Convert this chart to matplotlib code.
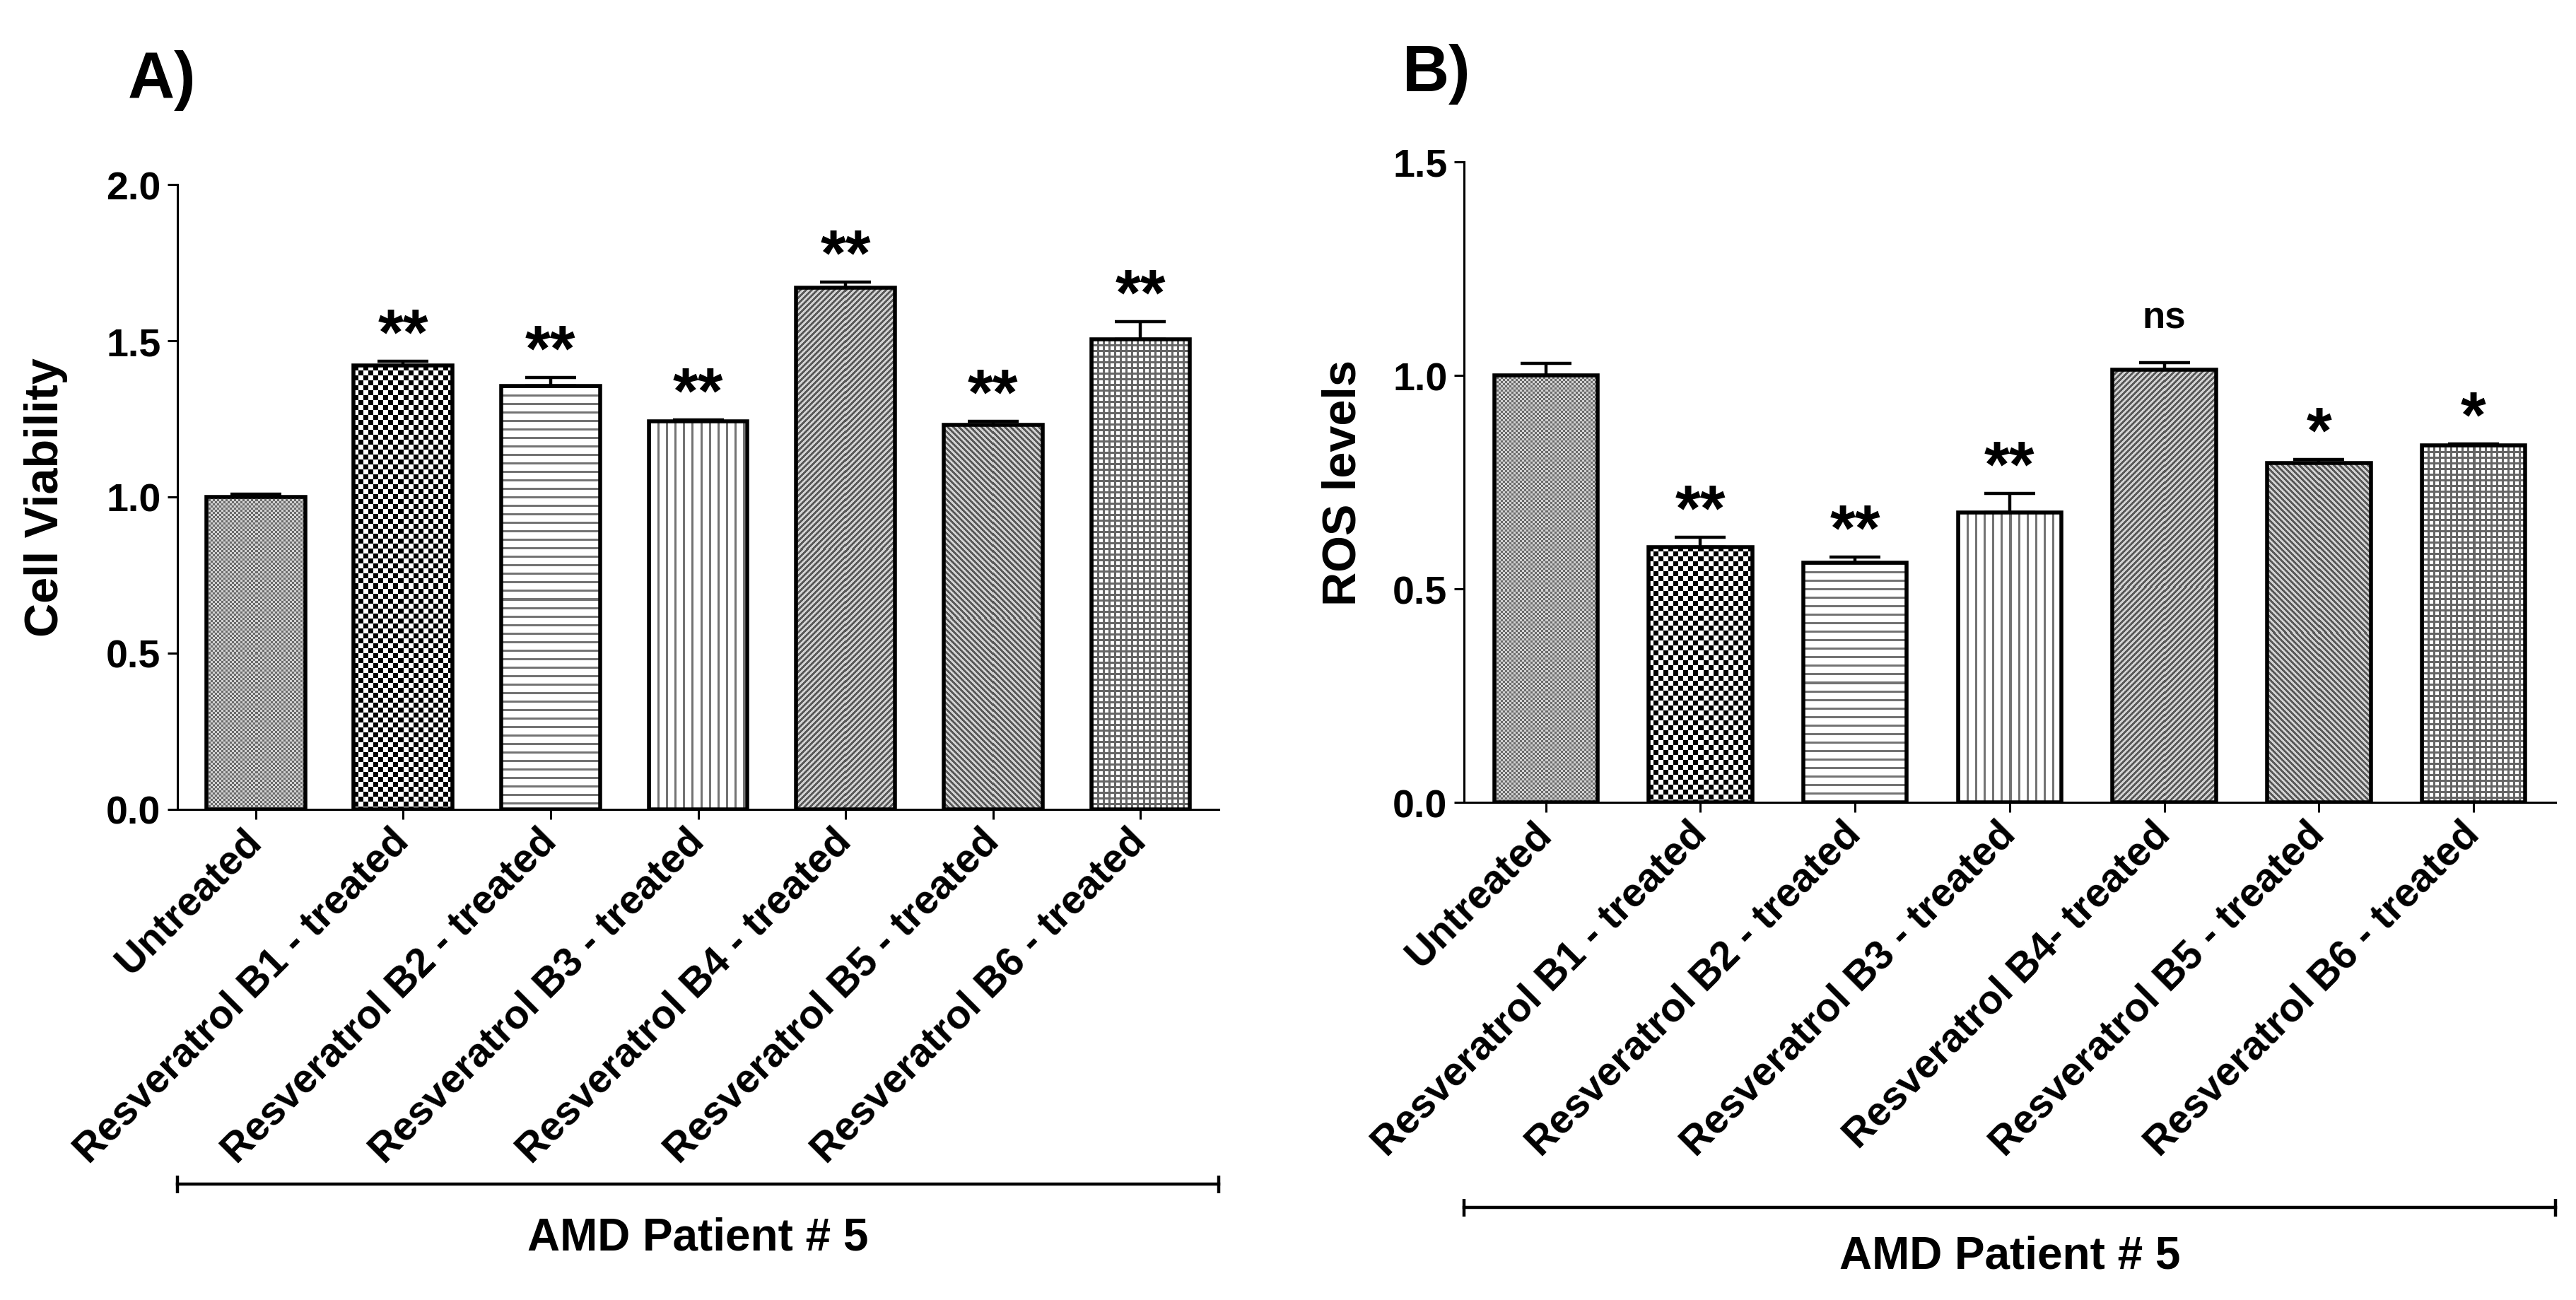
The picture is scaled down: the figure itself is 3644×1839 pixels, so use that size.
import numpy as np
import matplotlib
matplotlib.use("Agg")
import matplotlib.pyplot as plt

plt.rcParams['font.family'] = ['Liberation Sans', 'DejaVu Sans']
plt.rcParams['font.weight'] = 'bold'

# -----------------------------
#  Data
# -----------------------------
labels_a = ["Untreated", "Resveratrol B1 - treated", "Resveratrol B2 - treated",
            "Resveratrol B3 - treated", "Resveratrol B4 - treated",
            "Resveratrol B5 - treated", "Resveratrol B6 - treated"]
viability = [1.00, 1.42, 1.355, 1.242, 1.67, 1.231, 1.505]
viability_err = [0.008, 0.015, 0.027, 0.005, 0.018, 0.01, 0.055]
stars_a = ["", "**", "**", "**", "**", "**", "**"]

labels_b = ["Untreated", "Resveratrol B1 - treated", "Resveratrol B2 - treated",
            "Resveratrol B3 - treated", "Resveratrol B4- treated",
            "Resveratrol B5 - treated", "Resveratrol B6 - treated"]
ros = [1.00, 0.598, 0.561, 0.679, 1.014, 0.795, 0.836]
ros_err = [0.028, 0.023, 0.014, 0.045, 0.015, 0.008, 0.004]
stars_b = ["", "**", "**", "**", "ns", "*", "*"]

patterns = ["fine", "checker", "hlines", "vlines", "fwd", "back", "grid"]


def make_pattern(kind, nx, ny):
    i, j = np.meshgrid(np.arange(nx), np.arange(ny))
    if kind == "fine":
        return np.where(((i // 3) + (j // 3)) % 2 == 0, 0.42, 0.82)
    if kind == "checker":
        return np.where(((i // 7) + (j // 7)) % 2 == 0, 0.0, 1.0)
    if kind == "hlines":
        return np.where(j % 12 < 3, 0.45, 1.0)
    if kind == "vlines":
        return np.where(i % 12 < 3, 0.45, 1.0)
    if kind == "fwd":
        return np.where((i + j) % 8 < 4, 0.35, 0.82)
    if kind == "back":
        return np.where((i - j) % 8 < 4, 0.35, 0.82)
    if kind == "grid":
        return np.where((i % 8 < 3) | (j % 8 < 3), 0.4, 1.0)
    return np.ones((ny, nx))


def draw_panel(ax, labels, values, errs, stars, ymax, ylabel):
    x = np.arange(len(values))
    ax.set_xlim(-0.53, len(values) - 1 + 0.53)
    ax.set_ylim(0, ymax)
    ax.errorbar(x, values, yerr=[np.zeros(len(errs)), errs], fmt="none",
                ecolor="black", elinewidth=1.6, capsize=13, capthick=1.6, zorder=1)
    bars = ax.bar(x, values, width=0.67, facecolor="none", edgecolor="black",
                  linewidth=2.0, zorder=3)
    for bar, kind in zip(bars, patterns):
        x0, y0 = bar.get_x(), 0
        x1, y1 = bar.get_x() + bar.get_width(), bar.get_height()
        p0, p1 = ax.transData.transform([[x0, y0], [x1, y1]])
        nx = max(int(abs(p1[0] - p0[0])), 1)
        ny = max(int(abs(p1[1] - p0[1])), 1)
        img = ax.imshow(make_pattern(kind, nx, ny), cmap="gray", vmin=0, vmax=1,
                        extent=[x0, x1, y0, y1], interpolation="nearest",
                        aspect="auto", zorder=2)
        img.set_clip_path(bar)
    for xi, v, e, s in zip(x, values, errs, stars):
        if not s:
            continue
        size = 19 if s == "ns" else 33
        off = 14 if s == "ns" else -3
        ax.annotate(s, xy=(xi, v + e), xytext=(0, off), textcoords="offset points",
                    ha="center", va="bottom", fontsize=size, fontweight="bold")
    ax.set_xticks(x)
    ax.set_xticklabels(labels, rotation=45, ha="right", va="center",
                       rotation_mode="anchor", fontsize=20.5, fontweight="bold")
    ax.set_ylabel(ylabel, fontsize=24, fontweight="bold")
    ax.tick_params(axis="both", direction="out", length=5, width=1.1, labelsize=20)
    ax.tick_params(axis="x", pad=8, labelsize=20.5)
    for lab in ax.get_yticklabels():
        lab.set_fontweight("bold")
    for side in ["top", "right"]:
        ax.spines[side].set_visible(False)
    for side in ["left", "bottom"]:
        ax.spines[side].set_linewidth(1.1)
    ax.set_facecolor("white")


fig = plt.figure(figsize=(18.22, 9.2), dpi=200)
fig.patch.set_facecolor("white")

ax_a = fig.add_axes([0.0689, 0.3772, 0.4042, 0.4804])
ax_b = fig.add_axes([0.5683, 0.3826, 0.4237, 0.4924])

draw_panel(ax_a, labels_a, viability, viability_err, stars_a, 2.0, "Cell Viability")
ax_a.set_yticks([0.0, 0.5, 1.0, 1.5, 2.0])
ax_a.set_yticklabels(["0.0", "0.5", "1.0", "1.5", "2.0"])
ax_a.yaxis.set_label_coords(-0.105, 0.5)

draw_panel(ax_b, labels_b, ros, ros_err, stars_b, 1.5, "ROS levels")
ax_b.set_yticks([0.0, 0.5, 1.0, 1.5])
ax_b.set_yticklabels(["0.0", "0.5", "1.0", "1.5"])
ax_b.yaxis.set_label_coords(-0.09, 0.5)

# bracket + group label under each panel
for ax, yb, yt in [(ax_a, -0.60, -0.685), (ax_b, -0.632, -0.708)]:
    ax.plot([0, 1], [yb, yb], transform=ax.transAxes, color="black", lw=1.6,
            clip_on=False)
    ax.plot([0, 1], [yb, yb], transform=ax.transAxes, color="black", lw=0,
            marker="|", markersize=9, markeredgewidth=1.6, clip_on=False)
    ax.text(0.5, yt, "AMD Patient # 5", transform=ax.transAxes, ha="center",
            va="center", fontsize=23, fontweight="bold")

fig.text(0.0497, 0.925, "A)", fontsize=33, fontweight="bold", ha="left", va="baseline")
fig.text(0.5445, 0.930, "B)", fontsize=33, fontweight="bold", ha="left", va="baseline")

fig.savefig("out.png", dpi=200, facecolor="white")
